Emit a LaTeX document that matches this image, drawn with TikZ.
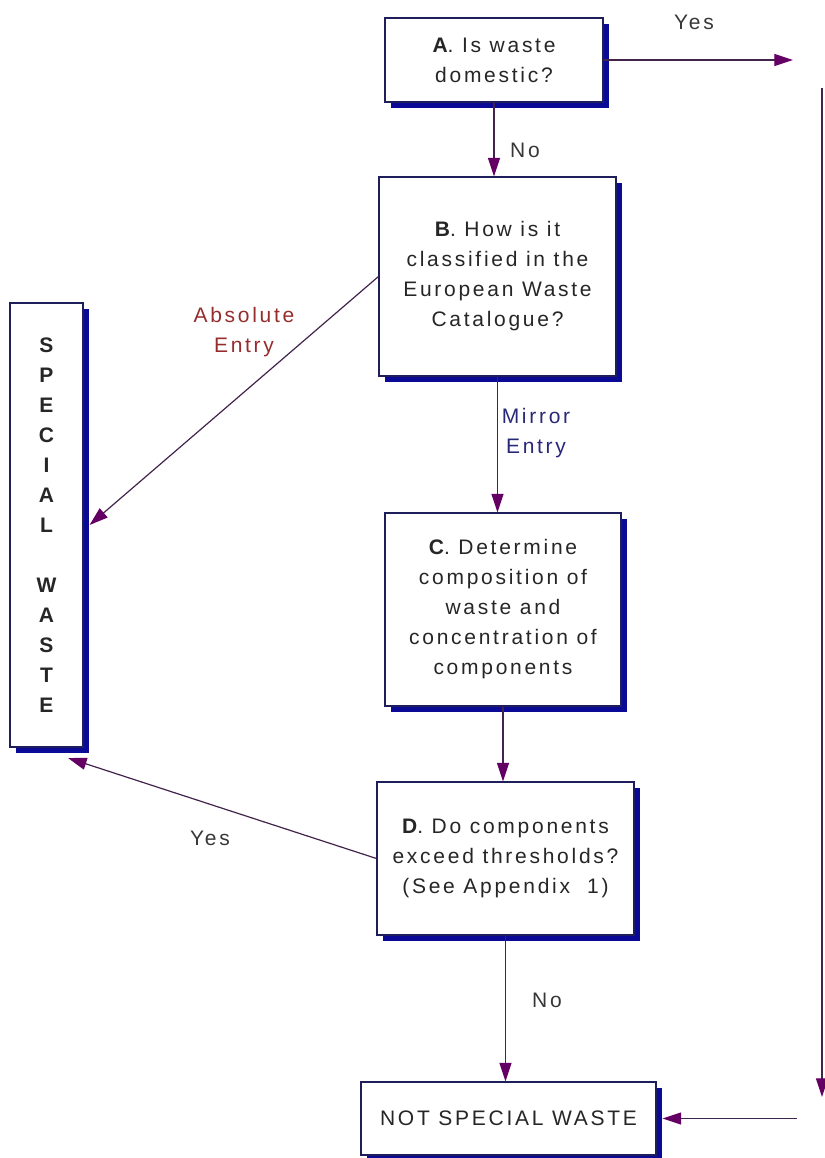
\documentclass[tikz,border=0pt]{standalone}
\usepackage{fontspec}
\setmainfont{Liberation Sans}[LetterSpace=13]
\usepackage{xcolor}
\usepackage{tikz}
\usetikzlibrary{arrows.meta, shadows}
\definecolor{boxline}{RGB}{30,30,90}
\definecolor{shadowblue}{RGB}{10,10,150}
\definecolor{tippurple}{RGB}{100,0,100}
\definecolor{flowgrey}{RGB}{65,35,75}
\definecolor{absred}{RGB}{150,45,45}
\definecolor{mirrorblue}{RGB}{40,40,120}
\definecolor{labgrey}{RGB}{55,55,55}

\begin{document}
\begin{tikzpicture}[x=0.75pt, y=-0.75pt,
    qbox/.style={draw=boxline, line width=0.8pt, fill=white, align=center, inner sep=2pt,
        text=black!85, font=\fontsize{15.75pt}{22.5pt}\selectfont,
        general shadow={fill=shadowblue, shadow xshift=4.5pt, shadow yshift=-4.5pt}},
    flow/.style={draw=flowgrey, line width=0.9pt,
        -{Triangle[color=tippurple, length=14pt, width=9pt]}},
    lab/.style={text=labgrey, align=center, font=\fontsize{15.75pt}{22.5pt}\selectfont}]
        \useasboundingbox (0,0) rectangle (825,1158);
        % question boxes
        \node[qbox, minimum width=163.5pt, minimum height=63pt] (qa) at (494,60)
            {\textbf{A}. Is waste\\domestic?};
        \node[qbox, minimum width=177.75pt, minimum height=149.25pt] (qb) at (497.5,276.5)
            {\textbf{B}. How is it\\classified in the\\European Waste\\Catalogue?};
        \node[qbox, minimum width=177pt, minimum height=144.75pt] (qc) at (503,609.5)
            {\textbf{C}. Determine\\composition of\\waste and\\concentration of\\components};
        \node[qbox, minimum width=192.75pt, minimum height=114.75pt] (qd) at (505.5,858.5)
            {\textbf{D}. Do components\\exceed thresholds?\\(See Appendix~ 1)};
        \node[qbox, minimum width=221.25pt, minimum height=54.75pt] (notsw) at (508.5,1118.5)
            {NOT SPECIAL WASTE};
        \node[qbox, minimum width=54.75pt, minimum height=333pt,
            font=\fontsize{15.75pt}{22.5pt}\selectfont\bfseries] (sw) at (46.5,525)
            {S\\P\\E\\C\\I\\A\\L\\[22.5pt]W\\A\\S\\T\\E};
        % free ends of the domestic path
        \coordinate (yesend) at (793,60);
        \coordinate (railtop) at (822,88);
        \coordinate (railbot) at (822,1097);
        \coordinate (railout) at (797,1118.5);
        \coordinate (swfoot) at (68,758);
        % connectors
        \draw[flow] (qa.east) -- (yesend);
        \draw[flow] (railtop) -- (railbot);
        \draw[flow] (railout) -- ([xshift=4.5pt]notsw.east);
        \draw[flow] (qa.south) -- (qa.south |- qb.north);
        \draw[flow] (qb.south) -- (qb.south |- qc.north);
        \draw[flow] (qc.south) -- (qc.south |- qd.north);
        \draw[flow] (qd.south) -- (qd.south |- notsw.north);
        \draw[flow] (qb.west) -- ([xshift=4.5pt]sw.east);
        \draw[flow] (qd.west) -- (swfoot);
        % labels
        \node[lab] (yesa) at (694,22) {Yes};
        \node[lab] (noa) at (525,150) {No};
        \node[lab, text=absred] (absent) at (244,332) {Absolute\\Entry};
        \node[lab, text=mirrorblue] (mirent) at (536,433) {Mirror\\Entry};
        \node[lab] (yesd) at (210,838) {Yes};
        \node[lab] (nod) at (547,1000) {No};
\end{tikzpicture}
\end{document}
